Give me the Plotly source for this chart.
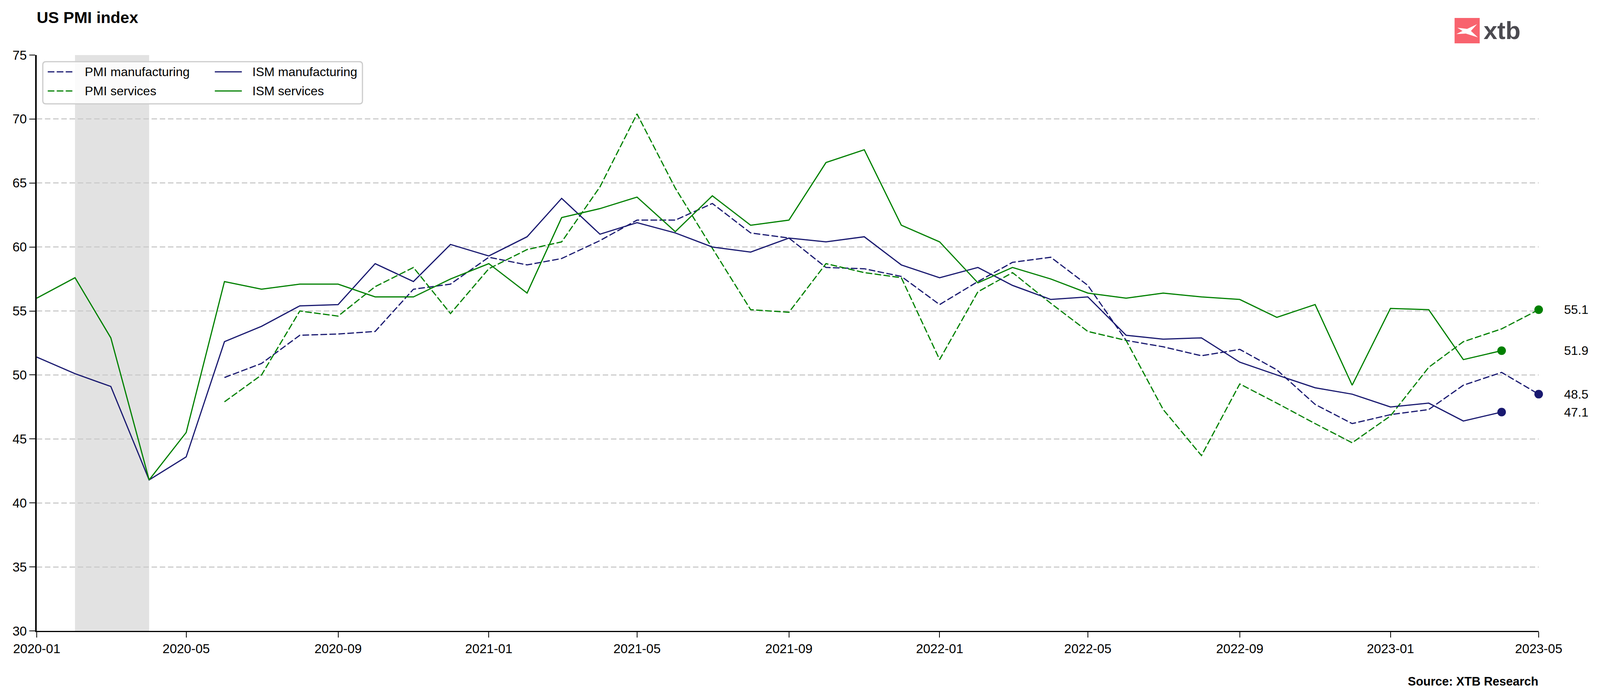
import pandas as pd
import plotly.graph_objects as go

# ---------------- data ----------------
ism_start = "2020-01-01"
pmi_start = "2020-06-01"

ism_manufacturing = [51.4, 50.1, 49.1, 41.8, 43.6, 52.6, 53.8, 55.4, 55.5, 58.7, 57.3, 60.2,
                     59.3, 60.8, 63.8, 61.0, 61.9, 61.1, 60.0, 59.6, 60.7, 60.4, 60.8, 58.6,
                     57.6, 58.4, 57.0, 55.9, 56.1, 53.1, 52.8, 52.9, 51.0, 50.0, 49.0, 48.5,
                     47.5, 47.8, 46.4, 47.1]
ism_services = [56.0, 57.6, 52.9, 41.8, 45.5, 57.3, 56.7, 57.1, 57.1, 56.1, 56.1, 57.5,
                58.7, 56.4, 62.3, 63.0, 63.9, 61.2, 64.0, 61.7, 62.1, 66.6, 67.6, 61.7,
                60.4, 57.2, 58.4, 57.5, 56.4, 56.0, 56.4, 56.1, 55.9, 54.5, 55.5, 49.2,
                55.2, 55.1, 51.2, 51.9]
pmi_manufacturing = [49.8, 50.9, 53.1, 53.2, 53.4, 56.7, 57.1,
                     59.2, 58.6, 59.1, 60.5, 62.1, 62.1, 63.4, 61.1, 60.7, 58.4, 58.3, 57.7,
                     55.5, 57.3, 58.8, 59.2, 57.0, 52.7, 52.2, 51.5, 52.0, 50.4, 47.7, 46.2,
                     46.9, 47.3, 49.2, 50.2, 48.5]
pmi_services = [47.9, 50.0, 55.0, 54.6, 56.9, 58.4, 54.8,
                58.3, 59.8, 60.4, 64.7, 70.4, 64.6, 59.9, 55.1, 54.9, 58.7, 58.0, 57.6,
                51.2, 56.5, 58.0, 55.6, 53.4, 52.7, 47.3, 43.7, 49.3, 47.8, 46.2, 44.7,
                46.8, 50.6, 52.6, 53.6, 55.1]

shade_start = "2020-02-01"
shade_end = "2020-04-01"
x_range = ["2020-01-01", "2023-05-01"]
y_ticks = [30, 35, 40, 45, 50, 55, 60, 65, 70, 75]

ism_dates = pd.date_range(ism_start, periods=len(ism_manufacturing), freq="MS")
pmi_dates = pd.date_range(pmi_start, periods=len(pmi_manufacturing), freq="MS")

# ---------------- styling ----------------
# the browser viewport is 4096 px wide, so the horizontal layout is scaled to fit it
REF_W = 4204
W, H = 4096, 1793
SX = W / REF_W
L0, R0, T, B = 96, 161, 141, 177
L, R = L0 * SX, R0 * SX
PW, PH = W - L - R, H - T - B
PW0 = REF_W - L0 - R0
FONT = "Liberation Sans, Arial, sans-serif"
NAVY = "#191970"
GREEN = "#008000"
DASH = "17px,6px"


def px(x):
    # x given in reference-image pixels
    return (x - L0) / PW0


def py(y):
    return (H - B - y) / PH


series = [
    ("PMI manufacturing", pmi_dates, pmi_manufacturing, NAVY, DASH),
    ("PMI services", pmi_dates, pmi_services, GREEN, DASH),
    ("ISM manufacturing", ism_dates, ism_manufacturing, NAVY, "solid"),
    ("ISM services", ism_dates, ism_services, GREEN, "solid"),
]

fig = go.Figure()
annotations = []
shapes = []

for name, dates, vals, color, dash in series:
    fig.add_trace(go.Scatter(x=dates, y=vals, mode="lines", name=name,
                             line=dict(color=color, width=3, dash=dash),
                             showlegend=False))
for name, dates, vals, color, dash in series:
    fig.add_trace(go.Scatter(x=[dates[-1]], y=[vals[-1]], mode="markers",
                             marker=dict(size=22, color=color), cliponaxis=False,
                             showlegend=False, hoverinfo="skip"))
    annotations.append(dict(text=f"{vals[-1]:.1f}", xref="paper", yref="y",
                            x=px(4108), y=vals[-1], xanchor="left", yanchor="middle",
                            showarrow=False, font=dict(size=32, color="black", family=FONT)))

shapes.append(dict(type="rect", xref="x", yref="paper", x0=shade_start, x1=shade_end,
                   y0=0, y1=1, fillcolor="#e2e2e2", line=dict(width=0), layer="below"))

# legend drawn manually
bx0, bx1, by0, by1, r = 112, 952, 158, 266, 8
rx, ry = r / PW0, r / PH
X0, X1, Y0, Y1 = px(bx0), px(bx1), py(by0), py(by1)
path = (f"M {X0+rx},{Y0} L {X1-rx},{Y0} Q {X1},{Y0} {X1},{Y0-ry} "
        f"L {X1},{Y1+ry} Q {X1},{Y1} {X1-rx},{Y1} L {X0+rx},{Y1} "
        f"Q {X0},{Y1} {X0},{Y1+ry} L {X0},{Y0-ry} Q {X0},{Y0} {X0+rx},{Y0} Z")
shapes.append(dict(type="path", xref="paper", yref="paper", path=path,
                   fillcolor="rgba(255,255,255,0.85)", line=dict(color="#cccccc", width=3),
                   layer="above"))
legend_pos = [(125, 192, 220, 184), (125, 192, 220, 233), (564, 635, 661, 184), (564, 635, 661, 233)]
for (name, dates, vals, color, dash), (sx0, sx1, tx, ty) in zip(series, legend_pos):
    shapes.append(dict(type="line", xref="paper", yref="paper", x0=px(sx0), x1=px(sx1),
                       y0=py(ty), y1=py(ty), line=dict(color=color, width=3, dash=dash),
                       layer="above"))
    annotations.append(dict(text=name, xref="paper", yref="paper", x=px(tx), y=py(ty),
                            xanchor="left", yanchor="middle", showarrow=False,
                            font=dict(size=32, color="black", family=FONT)))

annotations.append(dict(text="<b>US PMI index</b>", xref="paper", yref="paper",
                        x=px(94), y=py(45), xanchor="left", yanchor="middle", showarrow=False,
                        font=dict(size=41, color="black", family=FONT)))
annotations.append(dict(text="<b>Source: XTB Research</b>", xref="paper", yref="paper",
                        x=px(4044), y=py(1745), xanchor="right", yanchor="middle", showarrow=False,
                        font=dict(size=31, color="black", family=FONT)))

# logo
shapes.append(dict(type="rect", xref="paper", yref="paper", x0=px(3822), x1=px(3888),
                   y0=py(111), y1=py(46), fillcolor="#f8636e", line=dict(width=0), layer="above"))
logo_pts = [(3829.3, 71), (3855, 74), (3881, 62), (3865, 79.3), (3883.3, 95.7),
            (3851.7, 86), (3826.7, 87.3), (3842.7, 79.3)]
lp = "M " + " L ".join(f"{px(a)},{py(b)}" for a, b in logo_pts) + " Z"
shapes.append(dict(type="path", xref="paper", yref="paper", path=lp, fillcolor="white",
                   line=dict(width=0), layer="above"))
annotations.append(dict(text="<b>xtb</b>", xref="paper", yref="paper", x=px(3896), y=py(78),
                        xanchor="left", yanchor="middle", showarrow=False,
                        font=dict(size=63, color="#4b4a50", family=FONT)))

fig.update_layout(
    width=W, height=H, autosize=False,
    margin=dict(l=L, r=R, t=T, b=B, pad=0),
    paper_bgcolor="white", plot_bgcolor="white",
    font=dict(family=FONT, color="black", size=33),
    shapes=shapes, annotations=annotations, showlegend=False,
    xaxis=dict(range=x_range, type="date", tick0="2020-01-01", dtick="M4", tickformat="%Y-%m",
               showgrid=False, zeroline=False, showline=True, linecolor="black", linewidth=3,
               ticks="outside", ticklen=14, tickwidth=2, tickcolor="black",
               tickfont=dict(size=33, color="black", family=FONT)),
    yaxis=dict(range=[30, 75], tickvals=y_ticks, showgrid=True, gridcolor="#cccccc",
               gridwidth=3, griddash="14px,7px", zeroline=False, showline=True,
               linecolor="black", linewidth=3.5, ticks="outside", ticklen=15, tickwidth=2,
               tickcolor="black", tickfont=dict(size=33, color="black", family=FONT)),
)

fig.write_html("out.html", config={"displayModeBar": False},
               post_script="document.body.style.margin='0';document.body.style.overflow='hidden';")
